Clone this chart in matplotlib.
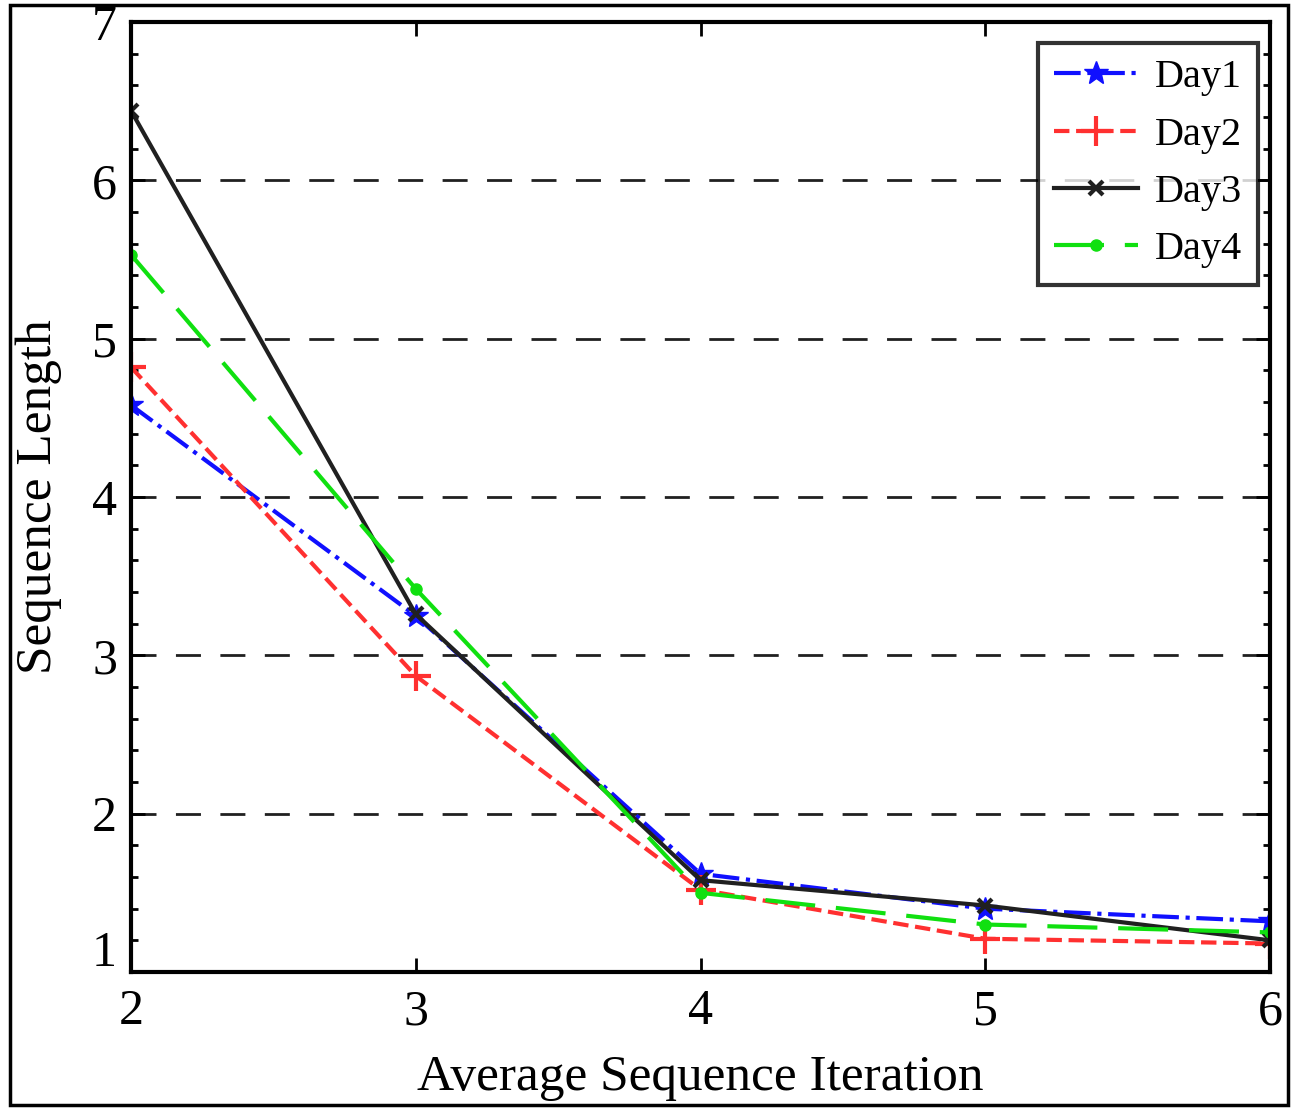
import numpy as np
import matplotlib
matplotlib.use('Agg')
import matplotlib.pyplot as plt
import matplotlib.transforms as mtransforms
from matplotlib.patches import Rectangle

iterations = [2, 3, 4, 5, 6]
day1 = [4.58, 3.25, 1.62, 1.40, 1.32]
day2 = [4.82, 2.87, 1.52, 1.21, 1.18]
day3 = [6.44, 3.26, 1.58, 1.42, 1.20]
day4 = [5.53, 3.42, 1.50, 1.30, 1.25]
yticks = [1, 2, 3, 4, 5, 6, 7]
xticks = [2, 3, 4, 5, 6]

plt.rcParams['font.family'] = ['Liberation Serif', 'DejaVu Serif']

fig = plt.figure(figsize=(12.94, 11.10), dpi=100)
ax = fig.add_axes([131 / 1294, 1 - 972 / 1110, (1270 - 131) / 1294, (972 - 22) / 1110])

# outer frame around whole picture
fig.patches.append(Rectangle((10 / 1294, 5 / 1110), 1278 / 1294, 1100 / 1110,
                             transform=fig.transFigure, fill=False, edgecolor='black', linewidth=2.5))

ax.plot(iterations, day1, color='#1010ff', linestyle='-.', linewidth=3, marker='*', markersize=18, label='Day1')
ax.plot(iterations, day2, color='#ff3030', linestyle='--', linewidth=3, marker='+', markersize=22,
        markeredgewidth=3, label='Day2')
ax.plot(iterations, day3, color='#202020', linestyle='-', linewidth=3, marker='x', markersize=10,
        markeredgewidth=3, label='Day3')
ax.plot(iterations, day4, color='#10e010', linestyle=(0, (12, 5)), linewidth=3, marker='.', markersize=16,
        label='Day4')

for y in [2, 3, 4, 5, 6]:
    ax.axhline(y, color='#202020', linestyle=(0, (9, 7)), linewidth=2, zorder=0)

ax.set_xlim(2, 6)
ax.set_ylim(1, 7)
ax.set_xticks(xticks)
ax.set_yticks(yticks)
ax.set_yticks(np.arange(1, 7.01, 0.2), minor=True)
ax.tick_params(axis='both', which='major', direction='in', length=10, width=2, labelsize=36,
               top=True, right=True)
ax.tick_params(axis='x', which='major', pad=12)
ax.tick_params(axis='y', which='major', pad=10)
ax.tick_params(axis='y', which='minor', direction='in', length=5, width=2, left=True, right=True)
for s in ax.spines.values():
    s.set_linewidth(3)

# matlab-ish: bottom y label raised a bit
lbl = ax.get_yticklabels()[0]
lbl.set_transform(lbl.get_transform() + mtransforms.ScaledTranslation(0, 0.24, fig.dpi_scale_trans))

ax.set_xlabel('Average Sequence Iteration', fontsize=37, labelpad=14)
ax.set_ylabel('Sequence Length', fontsize=37, labelpad=22)

leg = ax.legend(loc='upper right', fontsize=29, frameon=True, fancybox=False, edgecolor='black',
                handlelength=2.1, handletextpad=0.4, borderpad=0.4, labelspacing=0.5,
                bbox_to_anchor=(1.007, 0.999))
leg.get_frame().set_linewidth(3)

fig.savefig('out.png', dpi=100)
